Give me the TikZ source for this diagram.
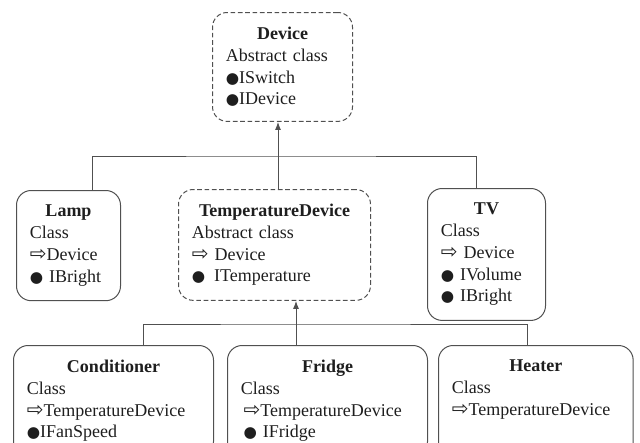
\documentclass[tikz,border=0pt]{standalone}
\usepackage{fontspec}
\setmainfont{Liberation Serif}
\newfontfamily\symfont{DejaVu Sans}
\usetikzlibrary{arrows.meta}

\newcommand{\inherits}{{\symfont\fontsize{15}{15}\selectfont ⇨}}
\newcommand{\implements}{{\symfont\fontsize{11.5}{11.5}\selectfont ●}}

\tikzset{every picture/.style={line width=0.75pt}}
\tikzset{
  classbox/.style={draw={rgb, 255:red, 80; green, 80; blue, 80 }, rounded corners=11pt,
    anchor=north west, align=left, inner xsep=10pt, inner ysep=11pt,
    font=\fontsize{13.5}{16.3}\selectfont, text={rgb, 255:red, 30; green, 30; blue, 30 }},
  abstractbox/.style={classbox, dash pattern=on 3.5pt off 2pt},
  link/.style={draw={rgb, 255:red, 80; green, 80; blue, 80 }},
  uplink/.style={link, -{Latex[length=6pt,width=4.5pt]}},
}

\begin{document}
\begin{tikzpicture}[x=0.75pt,y=0.75pt,yscale=-1,xscale=1]
	\clip (0,0) rectangle (640,443);

	%Abstract class [id:device]
	\node [abstractbox, text width=85pt] (device) at (212,12) {{\centering\textbf{Device}\par}Abstract class\\\implements ISwitch\\\implements IDevice};

	%Class [id:lamp]
	\node [classbox, text width=58pt] (lamp) at (16,190) {{\centering\textbf{Lamp}\par}Class\\\inherits Device\\\implements\ IBright};
	%Abstract class [id:tempdev]
	\node [abstractbox, text width=124pt] (tempdev) at (178,189) {{\centering\textbf{TemperatureDevice}\par}Abstract class\\\inherits\ Device\\\implements\enspace ITemperature};
	%Class [id:tv]
	\node [classbox, text width=68.5pt] (tv) at (427,188) {{\centering\textbf{TV}\par}Class\\\inherits\ Device\\\implements\ IVolume\\\implements\ IBright};

	%Class [id:cond]
	\node [classbox, text width=130pt] (cond) at (13,345) {{\centering\textbf{Conditioner}\par}Class\\\inherits TemperatureDevice\\\implements IFanSpeed};
	%Class [id:fridge]
	\node [classbox, text width=130pt] (fridge) at (227,345) {{\centering\textbf{Fridge}\par}Class\\\hspace{2pt}\inherits TemperatureDevice\\\hspace{2pt}\implements\ IFridge};
	%Class [id:heater]
	\node [classbox, text width=126pt] (heater) at (438,345) {{\centering\textbf{Heater}\par}Class\\\inherits TemperatureDevice\\\strut};

	%Connectors to Device
	\coordinate (upbus) at (278,156);
	\draw [link] ([xshift=18pt]lamp.north) |- (upbus) -| ([xshift=-7.5pt]tv.north);
	\draw [link] (upbus) -- (upbus |- tempdev.north);
	\draw [uplink] (upbus) -- (upbus |- device.south);

	%Connectors to TemperatureDevice
	\coordinate (lowbus) at (296,324);
	\draw [link] ([xshift=22.5pt]cond.north) |- (lowbus) -| ([xshift=-6pt]heater.north);
	\draw [link] (lowbus) -- (lowbus |- fridge.north);
	\draw [uplink] (lowbus) -- (lowbus |- tempdev.south);

\end{tikzpicture}
\end{document}
